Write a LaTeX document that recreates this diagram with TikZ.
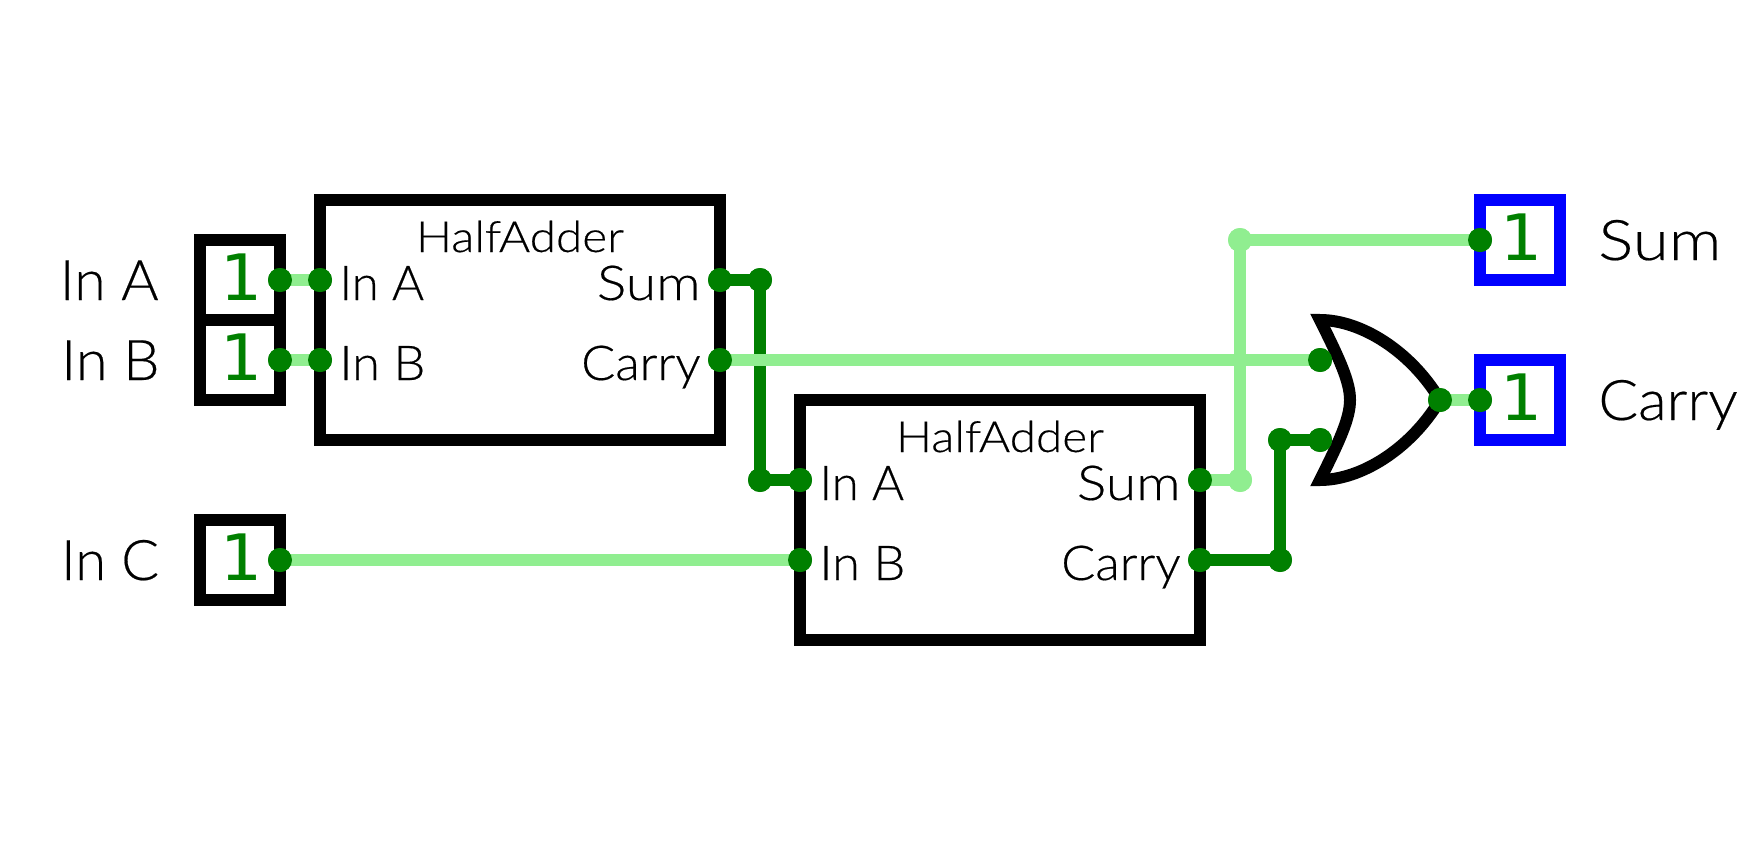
\documentclass[tikz,border=0pt]{standalone}
\usepackage{fontspec}
\setmainfont[FakeBold=0.35]{Lato Light}
\newfontfamily\digitfont{DejaVu Sans Mono}
\definecolor{wirelo}{HTML}{008000}
\definecolor{wirehi}{HTML}{90EE90}
\definecolor{outblue}{HTML}{0000FF}
\newcommand{\sx}[2]{\scalebox{#1}[1]{#2}}
\tikzset{
  x=0.5pt,y=-0.5pt,
  dotlo/.style={circle,fill=wirelo,draw=none,minimum size=12pt,inner sep=0pt},
  dothi/.style={circle,fill=wirehi,draw=none,minimum size=12pt,inner sep=0pt},
  wlo/.style={draw=wirelo,line width=6pt},
  whi/.style={draw=wirehi,line width=6pt},
  boxhalf/.style={rectangle,draw=black,line width=6pt,fill=white,minimum width=200pt,minimum height=120pt,inner sep=0pt},
  boxin/.style={rectangle,draw=black,line width=6pt,fill=white,minimum width=40pt,minimum height=40pt,inner sep=0pt},
  boxout/.style={boxin,draw=outblue},
  digit/.style={text=wirelo,font=\digitfont\fontsize{32}{36}\selectfont,inner sep=0pt,anchor=base},
  biglabel/.style={font=\fontsize{28}{33}\selectfont,inner sep=0pt,text=black},
  pinlabel/.style={font=\fontsize{24}{29}\selectfont,inner sep=0pt,text=black},
  titlelabel/.style={font=\fontsize{21.5}{26}\selectfont,inner sep=0pt,text=black},
}
\begin{document}
\begin{tikzpicture}
\useasboundingbox (0,0) rectangle (1760,840);
% boxes
\node[boxin] (inA) at (240,280) {};
\node[boxin] (inB) at (240,360) {};
\node[boxin] (inC) at (240,560) {};
\node[boxhalf] (ha1) at (520,320) {};
\node[boxhalf] (ha2) at (1000,520) {};
\node[boxout] (outS) at (1520,240) {};
\node[boxout] (outC) at (1520,400) {};
% gate
\draw[line width=6pt,line join=miter,miter limit=10,fill=white]
  (1320,320) .. controls (1360,320) and (1410,350) .. (1440,400)
  .. controls (1410,450) and (1360,480) .. (1320,480)
  .. controls (1340,440) and (1350,418) .. (1350,400)
  .. controls (1350,382) and (1340,360) .. (1320,320) -- cycle;
% pins and junctions
\node[dotlo] (pA) at (280,280) {};
\node[dotlo] (pB) at (280,360) {};
\node[dotlo] (pC) at (280,560) {};
\node[dotlo] (h1a) at (320,280) {};
\node[dotlo] (h1b) at (320,360) {};
\node[dotlo] (h1s) at (720,280) {};
\node[dotlo] (h1c) at (720,360) {};
\node[dotlo] (j1) at (760,280) {};
\node[dotlo] (j2) at (760,480) {};
\node[dotlo] (h2a) at (800,480) {};
\node[dotlo] (h2b) at (800,560) {};
\node[dotlo] (h2s) at (1200,480) {};
\node[dotlo] (h2c) at (1200,560) {};
\node[dothi] (j3) at (1240,480) {};
\node[dothi] (j4) at (1240,240) {};
\node[dotlo] (j5) at (1280,560) {};
\node[dotlo] (j6) at (1280,440) {};
\node[dotlo] (g1) at (1320,360) {};
\node[dotlo] (g2) at (1320,440) {};
\node[dotlo] (g3) at (1440,400) {};
\node[dotlo] (oS) at (1480,240) {};
\node[dotlo] (oC) at (1480,400) {};
% wires
\draw[whi] (pA.center) -- (h1a.center);
\draw[whi] (pB.center) -- (h1b.center);
\draw[wlo] (h1s.center) -- (j1.center);
\draw[wlo] (j1.center) -- (j2.center);
\draw[wlo] (j2.center) -- (h2a.center);
\draw[whi] (h1c.center) -- (g1.center);
\draw[whi] (pC.center) -- (h2b.center);
\draw[whi] (h2s.center) -- (j3.center);
\draw[whi] (j3.center) -- (j4.center);
\draw[whi] (j4.center) -- (oS.center);
\draw[wlo] (h2c.center) -- (j5.center);
\draw[wlo] (j5.center) -- (j6.center);
\draw[wlo] (j6.center) -- (g2.center);
\draw[whi] (g3.center) -- (oC.center);
% dots above the wires
\foreach \n in {pA,pB,pC,h1a,h1b,h1s,h1c,j1,j2,h2a,h2b,h2s,h2c,j5,j6,g1,g2,g3,oS,oC}
  \fill[wirelo] (\n) circle (12);
\foreach \n in {j3,j4}
  \fill[wirehi] (\n) circle (12);
% digits
\node[digit] (d1) at (240,300) {\sx{1.08}{1}};
\node[digit] (d2) at (240,380) {\sx{1.08}{1}};
\node[digit] (d3) at (240,580) {\sx{1.08}{1}};
\node[digit] (d4) at (1520,260) {\sx{1.08}{1}};
\node[digit] (d5) at (1520,420) {\sx{1.08}{1}};
% labels
\node[biglabel,anchor=base east] (lA) at (159,300) {\sx{1.02}{In A}};
\node[biglabel,anchor=base east] (lB) at (160,380) {\sx{1.03}{In B}};
\node[biglabel,anchor=base east] (lC) at (159.5,580) {\sx{1.0}{In C}};
\node[biglabel,anchor=base west] (lS) at (1598,260) {\sx{1.17}{Sum}};
\node[biglabel,anchor=base west] (lCa) at (1598,420) {\sx{1.05}{Carry}};
\node[titlelabel,anchor=base] (t1) at (520,252) {\sx{1.11}{HalfAdder}};
\node[titlelabel,anchor=base] (t2) at (1000,452) {\sx{1.11}{HalfAdder}};
\node[pinlabel,anchor=base west] (a1) at (339,300) {\sx{1.02}{In A}};
\node[pinlabel,anchor=base west] (b1) at (339,380) {\sx{1.05}{In B}};
\node[pinlabel,anchor=base east] (s1) at (701,300) {\sx{1.15}{Sum}};
\node[pinlabel,anchor=base east] (c1) at (701,380) {\sx{1.05}{Carry}};
\node[pinlabel,anchor=base west] (a2) at (819,500) {\sx{1.02}{In A}};
\node[pinlabel,anchor=base west] (b2) at (819,580) {\sx{1.05}{In B}};
\node[pinlabel,anchor=base east] (s2) at (1181,500) {\sx{1.15}{Sum}};
\node[pinlabel,anchor=base east] (c2) at (1181,580) {\sx{1.05}{Carry}};
\end{tikzpicture}
\end{document}
